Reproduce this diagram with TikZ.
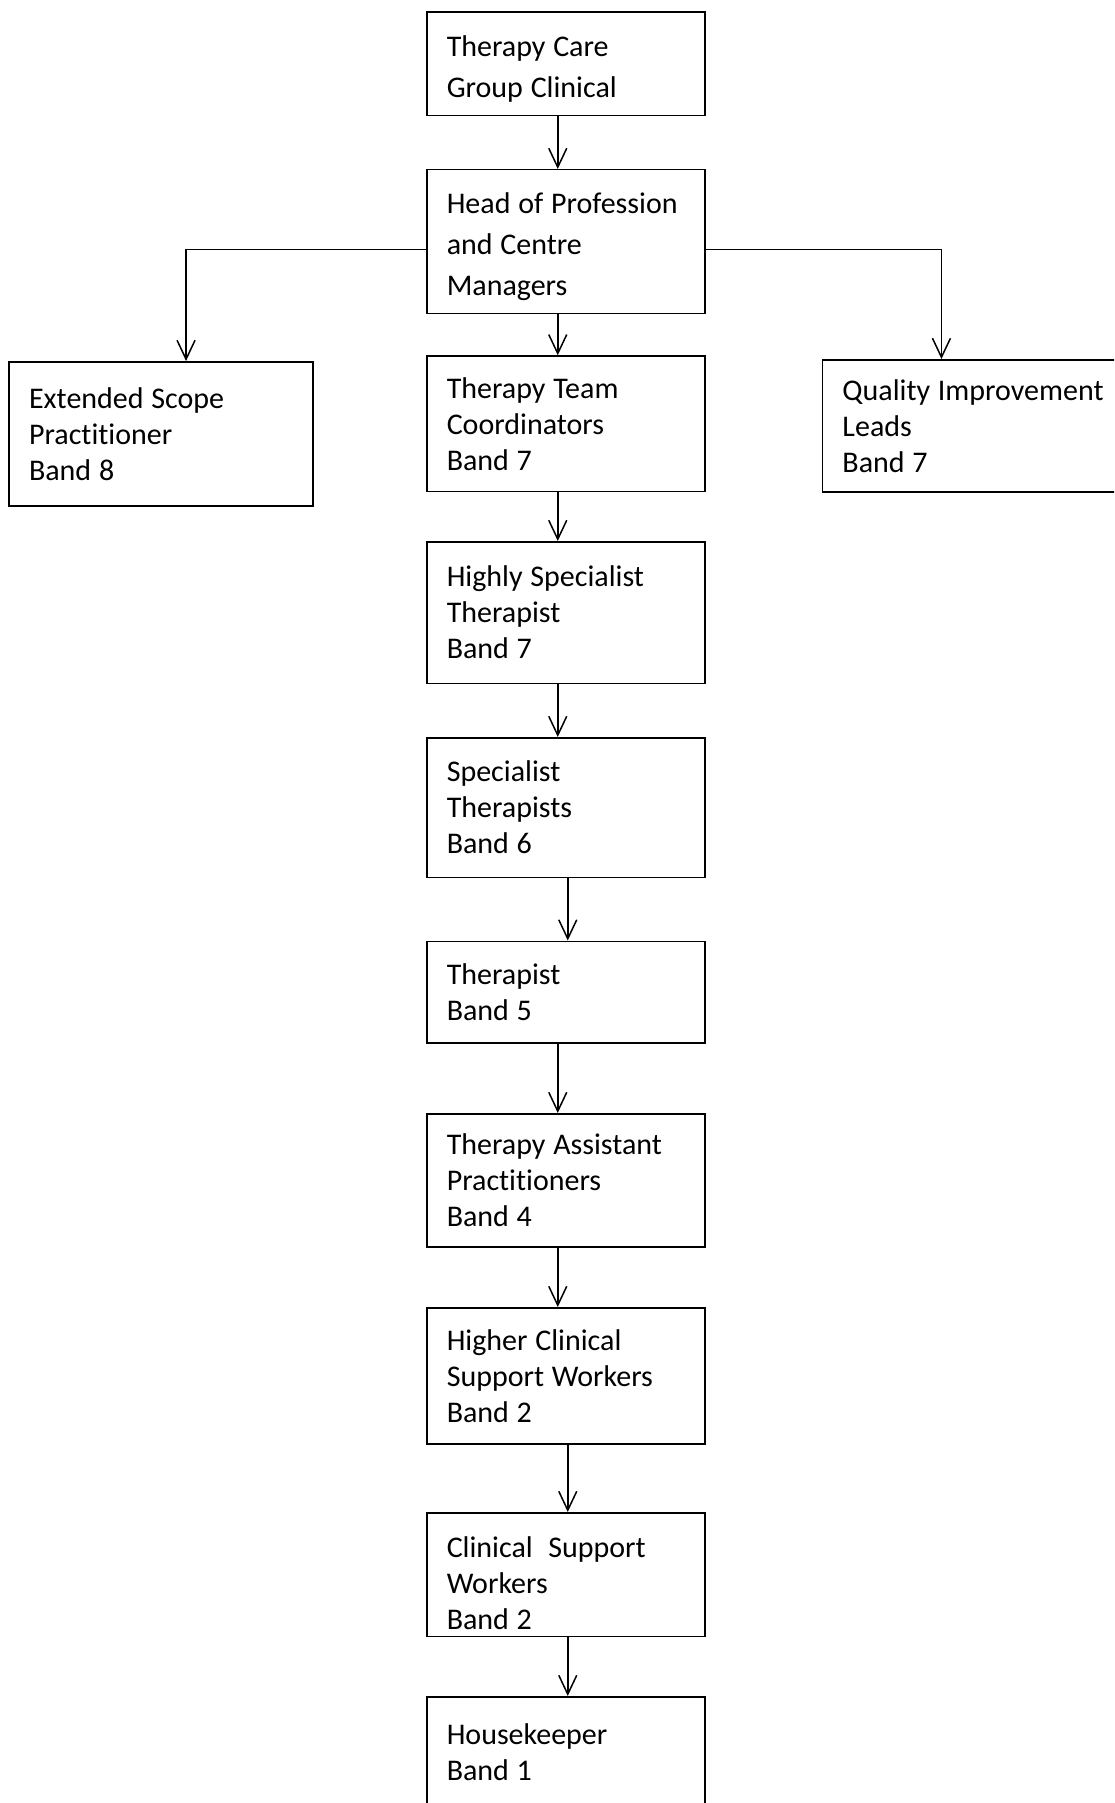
\documentclass[tikz,border=0pt]{standalone}
\usepackage{fontspec}
\setmainfont{Carlito}[Ligatures=NoCommon]
\usetikzlibrary{arrows.meta}

\tikzset{
  box/.style={draw, line width=1.5pt, anchor=north west, align=left, inner xsep=20pt, inner ysep=0pt,
    text width=238pt, font=\fontsize{30}{36}\selectfont,
    execute at begin node={\spaceskip=0.26em plus 0.1em\relax}},
  wide/.style={font=\fontsize{30}{41}\selectfont,
    execute at begin node={\rule{0pt}{31pt}}},
  lower/.style={execute at begin node={\rule{0pt}{#1}}},
  conn/.style={line width=1.5pt, -{Straight Barb[length=19pt,width=18pt,line width=1.5pt]}}
}

\begin{document}
\begin{tikzpicture}[x=1pt,y=-1pt]
\useasboundingbox (0,0) rectangle (1114,1803);
\clip (0,0) rectangle (1114,1803);
% top of the chart
\node[box,wide,minimum height=103.5pt] (care) at (426,11.5) {Therapy Care\\Group Clinical};
\node[box,wide,minimum height=143.7pt] (head) at (426,169) {Head of Profession\\and Centre\\Managers};
% side boxes
\node[box,text width=264pt,minimum height=144pt] (esp) at (8.3,361) {Extended Scope\\Practitioner\\Band 8};
\node[box,text width=300pt,minimum height=132pt] (qil) at (821.7,359) {Quality Improvement\\Leads\\Band 7};
% main column
\node[box,minimum height=135.5pt] (ttc) at (426,355.3) {Therapy Team\\Coordinators\\Band 7};
\node[box,minimum height=141.5pt] (hst) at (426,541) {Highly Specialist\\Therapist\\Band 7};
\node[box,minimum height=139.5pt] (spec) at (426,737) {Specialist\\Therapists\\Band 6};
\node[box,minimum height=101.5pt] (ther) at (426,940.5) {Therapist\\Band 5};
\node[box,minimum height=133pt] (tap) at (426,1113) {Therapy Assistant\\Practitioners\\Band 4};
\node[box,minimum height=136pt] (hcsw) at (426,1307) {Higher Clinical\\Support Workers\\Band 2};
\node[box,lower=39pt,minimum height=123.5pt] (csw) at (426,1512) {Clinical~~Support\\Workers\\Band 2};
\node[box,minimum height=110pt] (house) at (426,1696) {Housekeeper\\Band 1};

% connectors
\draw[conn] ([xshift=-8pt]care.south) -- ([xshift=-8pt]head.north);
\draw[conn] ([xshift=-8pt]head.south) -- ([xshift=-8pt]ttc.north);
\draw[conn] ([yshift=-8pt]head.west) -| ([xshift=25pt]esp.north);
\draw[conn] ([yshift=-8pt]head.east) -| ([xshift=-51pt]qil.north);
\draw[conn] ([xshift=-8pt]ttc.south) -- ([xshift=-8pt]hst.north);
\draw[conn] ([xshift=-8pt]hst.south) -- ([xshift=-8pt]spec.north);
\draw[conn] ([xshift=2pt]spec.south) -- ([xshift=2pt]ther.north);
\draw[conn] ([xshift=-8pt]ther.south) -- ([xshift=-8pt]tap.north);
\draw[conn] ([xshift=-8pt]tap.south) -- ([xshift=-8pt]hcsw.north);
\draw[conn] ([xshift=2pt]hcsw.south) -- ([xshift=2pt]csw.north);
\draw[conn] ([xshift=2pt]csw.south) -- ([xshift=2pt]house.north);
\end{tikzpicture}
\end{document}
